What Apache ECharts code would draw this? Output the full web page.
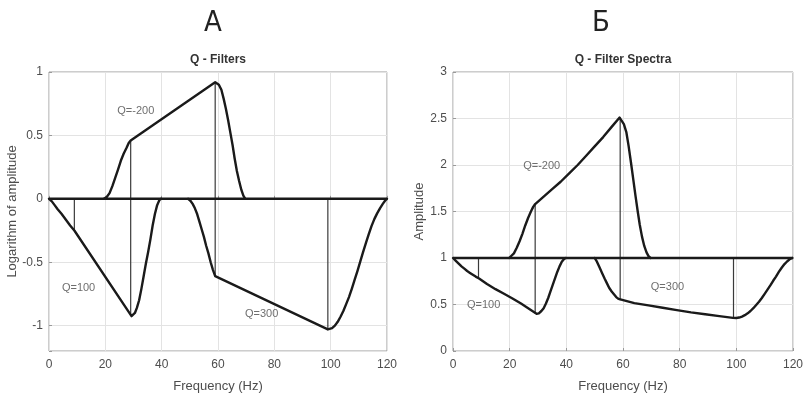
<!DOCTYPE html>
<html>
<head>
<meta charset="utf-8">
<script src="https://cdn.jsdelivr.net/npm/echarts@6/dist/echarts.min.js"></script>
<style>
html,body{margin:0;padding:0;background:#fff;}
#chart{width:807px;height:398px;}
</style>
</head>
<body>
<div id="chart"></div>
<script>
// ---------- Data ----------
const panelLetters = ['А', 'Б'];
const panelTitles = ['Q - Filters', 'Q - Filter Spectra'];
const xAxisName = 'Frequency (Hz)';
const yAxisNames = ['Logarithm of amplitude', 'Amplitude'];
const xTicks = [0, 20, 40, 60, 80, 100, 120];

// Panel A: logarithm of amplitude
const aQm200Freq = [19.5, 20.5, 21.5, 22.5, 23.5, 24.5, 25.5, 26.5, 27.5, 28.3, 29, 59, 59.5, 60.3, 61.2, 62, 62.8, 63.6, 64.4, 65.2, 65.9, 66.7, 67.5, 68.3, 69, 69.7];
const aQm200Val  = [0, 0.015, 0.045, 0.1, 0.165, 0.23, 0.3, 0.355, 0.4, 0.44, 0.46, 0.92, 0.92, 0.9, 0.86, 0.79, 0.71, 0.62, 0.52, 0.42, 0.32, 0.22, 0.14, 0.07, 0.025, 0];
const aQ100Freq  = [0, 1, 2, 3, 4.5, 6, 7.5, 9, 29.3, 29.8, 30.5, 31.2, 32, 32.8, 33.6, 34.4, 35.2, 36, 36.8, 37.6, 38.4, 39.2, 39.8];
const aQ100Val   = [0, -0.02, -0.05, -0.08, -0.12, -0.165, -0.21, -0.25, -0.925, -0.92, -0.9, -0.86, -0.8, -0.71, -0.61, -0.51, -0.42, -0.32, -0.21, -0.12, -0.05, -0.01, 0];
const aQ300Freq  = [49.4, 50.2, 51, 51.8, 52.6, 53.4, 54.2, 55, 55.8, 56.6, 57.4, 58.2, 59, 99, 99.5, 100.5, 101.5, 102.5, 103.5, 104.5, 105.5, 106.5, 107.5, 108.5, 109.5, 110.5, 111.5, 112.5, 113.5, 114.5, 115.5, 116.5, 117.5, 118.5, 119.3, 120];
const aQ300Val   = [0, -0.015, -0.04, -0.075, -0.12, -0.18, -0.24, -0.3, -0.37, -0.43, -0.5, -0.56, -0.61, -1.03, -1.03, -1.02, -1, -0.97, -0.93, -0.885, -0.83, -0.775, -0.71, -0.64, -0.57, -0.495, -0.42, -0.35, -0.28, -0.215, -0.16, -0.115, -0.075, -0.04, -0.015, 0];
const aBaseline  = 0;
const aStemFreq  = [9, 29, 59, 99];
const aStemTop   = [0, 0.46, 0.92, 0];
const aStemBot   = [-0.25, -0.92, -0.61, -1.03];
const aLabelText = ['Q=-200', 'Q=100', 'Q=300'];
const aLabelFreq = [30.8, 10.5, 75.5];
const aLabelVal  = [0.69, -0.70, -0.91];

// Panel Б: amplitude
const bQm200Freq = [19.8, 20.5, 21.5, 22.5, 23.5, 24.5, 25.5, 26.5, 27.5, 28.3, 29, 32, 35, 38, 41, 44, 47, 50, 53, 56, 58.8, 59.5, 60.3, 61.2, 62, 62.8, 63.6, 64.4, 65.2, 65.9, 66.7, 67.5, 68.3, 69, 69.7];
const bQm200Val  = [1, 1.015, 1.05, 1.11, 1.18, 1.26, 1.35, 1.43, 1.5, 1.55, 1.58, 1.66, 1.74, 1.82, 1.91, 2, 2.1, 2.2, 2.3, 2.41, 2.51, 2.5, 2.44, 2.35, 2.2, 2.03, 1.85, 1.67, 1.5, 1.36, 1.23, 1.13, 1.06, 1.02, 1];
const bQ100Freq  = [0, 1, 2, 3, 4, 5, 6, 7, 8, 9.2, 12, 15, 18, 21, 24, 26, 28, 29.5, 30.3, 31.2, 32, 32.8, 33.6, 34.4, 35.2, 36, 36.8, 37.6, 38.4, 39.2, 39.8];
const bQ100Val   = [1, 0.97, 0.94, 0.91, 0.885, 0.86, 0.84, 0.82, 0.8, 0.78, 0.72, 0.665, 0.615, 0.565, 0.51, 0.47, 0.43, 0.4, 0.405, 0.43, 0.46, 0.51, 0.57, 0.64, 0.71, 0.78, 0.85, 0.91, 0.96, 0.99, 1];
const bQ300Freq  = [50, 50.8, 51.7, 52.6, 53.5, 54.3, 55.1, 56, 56.8, 57.6, 58.4, 59.1, 64, 69, 74, 79, 84, 89, 94, 98.8, 100, 101, 102, 103, 104, 105, 106, 107, 108, 109, 110, 111, 112, 113, 114, 115, 116, 117, 118, 119, 119.8];
const bQ300Val   = [1, 0.96, 0.9, 0.84, 0.78, 0.73, 0.68, 0.64, 0.61, 0.58, 0.56, 0.545, 0.515, 0.49, 0.465, 0.44, 0.415, 0.395, 0.375, 0.356, 0.355, 0.36, 0.37, 0.385, 0.405, 0.43, 0.46, 0.495, 0.53, 0.57, 0.615, 0.66, 0.705, 0.755, 0.8, 0.85, 0.895, 0.935, 0.965, 0.99, 1];
const bBaseline  = 1;
const bStemFreq  = [9, 29, 59, 99];
const bStemTop   = [1, 1.58, 2.51, 1];
const bStemBot   = [0.78, 0.4, 0.545, 0.356];
const bLabelText = ['Q=-200', 'Q=100', 'Q=300'];
const bLabelFreq = [31.3, 10.8, 75.7];
const bLabelVal  = [1.99, 0.495, 0.69];

// ---------- Build ----------
const pairs = (xs, ys) => xs.map((x, i) => [x, ys[i]]);
const FONT = 'Liberation Sans, Arial, sans-serif';
const curveStyle = { color: '#1a1a1a', width: 2.4, join: 'round', cap: 'round' };

function curve(xs, ys, idx) {
  return { type: 'line', xAxisIndex: idx, yAxisIndex: idx, data: pairs(xs, ys),
    smooth: false, showSymbol: false, symbol: 'none',
    lineStyle: curveStyle, silent: true, z: 4 };
}
function baseline(v, idx) {
  return { type: 'line', xAxisIndex: idx, yAxisIndex: idx, data: [[xTicks[0], v], [xTicks[xTicks.length - 1], v]],
    showSymbol: false, symbol: 'none', lineStyle: { color: '#1a1a1a', width: 2.6 }, silent: true, z: 5 };
}
function stems(fr, top, bot, idx) {
  return fr.map((f, i) => ({ type: 'line', xAxisIndex: idx, yAxisIndex: idx,
    data: [[f, top[i]], [f, bot[i]]], showSymbol: false, symbol: 'none',
    lineStyle: { color: '#3a3a3a', width: 1.2 }, silent: true, z: 3 }));
}
function labels(txt, fr, vals, idx) {
  return { type: 'scatter', xAxisIndex: idx, yAxisIndex: idx, symbolSize: 0, silent: true, z: 6,
    data: txt.map((t, i) => ({ name: t, value: [fr[i], vals[i]] })),
    label: { show: true, position: 'inside', formatter: '{b}', color: '#4a4a4a', fontFamily: FONT, fontSize: 11 } };
}

const gridCommon = { top: 72, height: 281, show: true, borderColor: '#9a9a9a', borderWidth: 1, backgroundColor: '#fff' };
const axisLabelStyle = { color: '#4d4d4d', fontFamily: FONT, fontSize: 12 };
const splitLineStyle = { show: true, lineStyle: { color: '#e3e3e3', width: 1 } };

function xAxis(idx) {
  return { type: 'value', gridIndex: idx, min: xTicks[0], max: xTicks[xTicks.length - 1], interval: 20,
    name: xAxisName, nameLocation: 'middle', nameGap: 29,
    nameTextStyle: { color: '#4d4d4d', fontFamily: FONT, fontSize: 13 },
    axisLine: { show: false }, axisTick: { show: true, inside: true, length: 3, lineStyle: { color: '#9a9a9a' } },
    axisLabel: Object.assign({ margin: 8 }, axisLabelStyle), splitLine: splitLineStyle };
}

const letterStyle = { fontFamily: 'Liberation Sans Narrow, DejaVu Sans Condensed, sans-serif', fontWeight: 'normal', fontSize: 29, color: '#222' };

const option = {
  animation: false,
  backgroundColor: '#fff',
  title: [
    { text: panelLetters[0], left: 213, top: 9, textAlign: 'center', padding: 0, textStyle: letterStyle },
    { text: panelLetters[1], left: 601, top: 9, textAlign: 'center', padding: 0, textStyle: letterStyle },
    { text: panelTitles[0], left: 218, top: 54, textAlign: 'center', padding: 0,
      textStyle: { fontFamily: FONT, fontWeight: 'bold', fontSize: 12, color: '#333' } },
    { text: panelTitles[1], left: 623, top: 54, textAlign: 'center', padding: 0,
      textStyle: { fontFamily: FONT, fontWeight: 'bold', fontSize: 12, color: '#333' } }
  ],
  grid: [
    Object.assign({ left: 49, width: 338 }, gridCommon),
    Object.assign({ left: 453, width: 340 }, gridCommon)
  ],
  xAxis: [xAxis(0), xAxis(1)],
  yAxis: [
    { type: 'value', gridIndex: 0, min: -1.2, max: 1, splitNumber: 5,
      name: yAxisNames[0], nameLocation: 'middle', nameGap: 28,
      nameTextStyle: { color: '#4d4d4d', fontFamily: FONT, fontSize: 13 },
      axisLine: { show: false }, axisTick: { show: true, inside: true, length: 3, lineStyle: { color: '#9a9a9a' } },
      axisLabel: Object.assign({ margin: 6, formatter: v => (Math.abs(v + 1.2) < 1e-9 ? '' : String(v)) }, axisLabelStyle),
      splitLine: splitLineStyle },
    { type: 'value', gridIndex: 1, min: 0, max: 3, interval: 0.5,
      name: yAxisNames[1], nameLocation: 'middle', nameGap: 26,
      nameTextStyle: { color: '#4d4d4d', fontFamily: FONT, fontSize: 13 },
      axisLine: { show: false }, axisTick: { show: true, inside: true, length: 3, lineStyle: { color: '#9a9a9a' } },
      axisLabel: Object.assign({ margin: 6 }, axisLabelStyle),
      splitLine: splitLineStyle }
  ],
  series: [].concat(
    stems(aStemFreq, aStemTop, aStemBot, 0),
    [baseline(aBaseline, 0), curve(aQm200Freq, aQm200Val, 0), curve(aQ100Freq, aQ100Val, 0), curve(aQ300Freq, aQ300Val, 0),
     labels(aLabelText, aLabelFreq, aLabelVal, 0)],
    stems(bStemFreq, bStemTop, bStemBot, 1),
    [baseline(bBaseline, 1), curve(bQm200Freq, bQm200Val, 1), curve(bQ100Freq, bQ100Val, 1), curve(bQ300Freq, bQ300Val, 1),
     labels(bLabelText, bLabelFreq, bLabelVal, 1)]
  )
};

echarts.init(document.getElementById('chart'), null, { renderer: 'canvas' }).setOption(option);
</script>
</body>
</html>
